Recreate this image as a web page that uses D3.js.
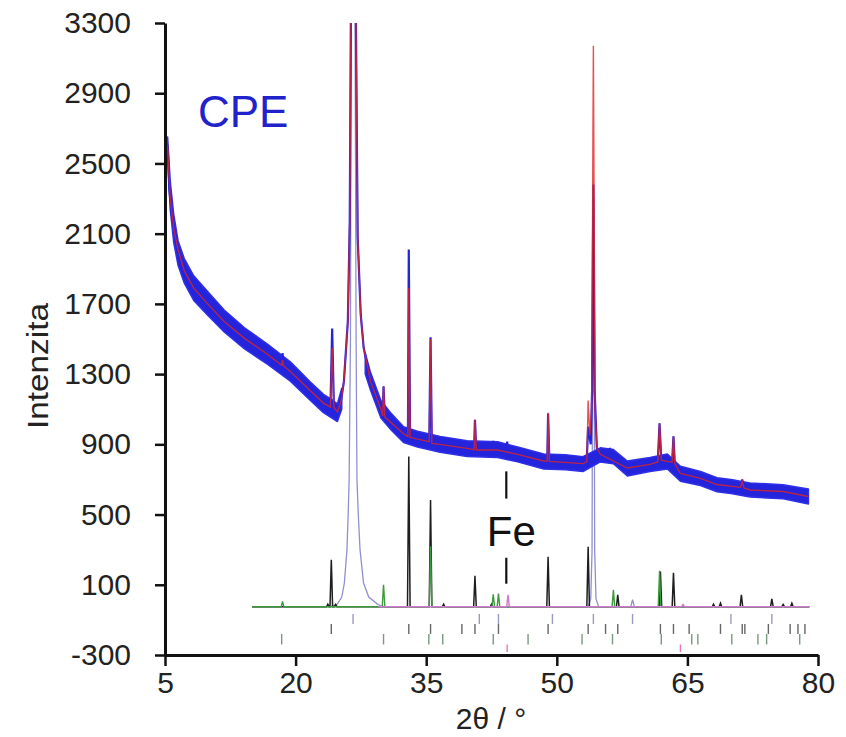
<!DOCTYPE html>
<html>
<head>
<meta charset="utf-8">
<script src="https://cdn.jsdelivr.net/npm/d3@7/dist/d3.min.js"></script>
<style>
  body { margin: 0; background: #fff; }
  text { font-family: "Liberation Sans", Arial, sans-serif; }
</style>
</head>
<body>
<div id="chart"></div>
<script>
// tick labels
const xTicks = [5, 20, 35, 50, 65, 80];
const yTicks = [-300, 100, 500, 900, 1300, 1700, 2100, 2500, 2900, 3300];

// measured pattern (centre of the noisy trace), [2θ, intensity]
const observed = [
  [5.3, 2600], [5.5, 2350], [5.8, 2200], [6.2, 2090], [6.7, 1980], [7.2, 1890], [8.3, 1790],
  [9.9, 1700], [11.8, 1600], [13.6, 1525], [13.7, 1580], [13.8, 1520], [14.1, 1505],
  [16.3, 1425], [16.4, 1480], [16.5, 1420], [16.8, 1410], [18.4, 1350], [18.5, 1420],
  [18.6, 1345], [19.4, 1315], [21.7, 1205], [23.2, 1135], [24.0, 1110], [24.2, 1560],
  [24.4, 1110], [24.8, 1080], [25.2, 1140], [25.55, 1260], [26.0, 1600], [26.22, 2170],
  [26.4, 3800], [26.85, 3800], [27.13, 2080], [27.48, 1640], [27.82, 1450], [28.6, 1260],
  [29.8, 1100], [30.0, 1060], [30.1, 1230], [30.25, 1050], [32.4, 957], [32.9, 940],
  [33.0, 2010], [33.15, 935], [34.0, 929], [35.35, 915], [35.5, 1510], [35.65, 905],
  [36.6, 900], [39.7, 877], [40.5, 870], [40.6, 1040], [40.75, 868], [42.6, 865],
  [42.7, 920], [42.85, 860], [44.2, 850], [44.3, 915], [44.4, 848], [45.5, 843],
  [48.5, 805], [48.9, 805], [49.0, 1075], [49.15, 803], [53.0, 790], [53.45, 820],
  [53.6, 1000], [53.9, 900], [54.05, 1200], [54.2, 2380], [54.35, 1200], [54.6, 880],
  [55.0, 843], [56.0, 850], [56.1, 880], [56.2, 845], [58.1, 765], [60.7, 786],
  [61.6, 800], [61.8, 1020], [62.0, 810], [62.7, 803], [63.25, 800], [63.4, 946],
  [63.55, 790], [64.2, 734], [66.5, 706], [68.4, 671], [71.1, 655], [71.3, 700],
  [71.5, 652], [72.2, 640], [76.0, 631], [78.9, 603]
];

// spread of the noise around the measured trace, [2θ, low, high]
const observedBand = [
  [5.3, 2540, 2650], [5.6, 2240, 2400], [6.0, 2050, 2210], [6.5, 1920, 2060],
  [7.2, 1820, 1960], [8.3, 1720, 1860], [9.9, 1635, 1770], [11.8, 1540, 1665],
  [14.1, 1445, 1565], [16.8, 1355, 1470], [19.4, 1260, 1370], [21.7, 1150, 1255],
  [23.2, 1080, 1185], [24.0, 1055, 1160], [24.8, 1030, 1130], [25.3, 1100, 1220],
  [25.6, null, null],
  [28.0, 1300, 1420], [28.6, 1210, 1310], [29.8, 1050, 1150], [31.0, 980, 1075],
  [32.4, 910, 1000], [34.0, 885, 975], [36.6, 855, 945], [39.7, 830, 920],
  [43.2, 825, 915], [45.5, 800, 885], [48.5, 760, 845], [51.0, 755, 840],
  [53.0, 745, 830], [55.0, 800, 880], [56.5, 790, 870], [58.1, 720, 805],
  [60.7, 745, 825], [62.7, 760, 845], [64.2, 690, 775], [66.5, 665, 745],
  [68.4, 630, 710], [70.0, 620, 700], [72.2, 600, 680], [76.0, 590, 670],
  [78.9, 560, 645]
];

// refined (calculated) pattern, [2θ, intensity]
const calculated = [
  [5.3, 2600], [5.6, 2300], [6.0, 2130], [6.5, 2010], [7.2, 1890], [8.3, 1790],
  [9.9, 1700], [11.8, 1600], [14.1, 1505], [16.8, 1412], [18.4, 1350], [18.5, 1380],
  [18.6, 1348], [19.4, 1315], [21.7, 1205], [23.2, 1135], [24.0, 1112], [24.2, 1450],
  [24.4, 1110], [24.8, 1085], [25.2, 1140], [25.55, 1260], [26.0, 1600], [26.22, 2170],
  [26.4, 3800], [26.85, 3800], [27.13, 2080], [27.48, 1640], [27.82, 1450], [28.6, 1260],
  [29.8, 1100], [30.0, 1062], [30.1, 1230], [30.25, 1055], [32.4, 960], [32.9, 945],
  [33.0, 1790], [33.15, 940], [34.0, 930], [35.35, 915], [35.5, 1500], [35.65, 905],
  [36.6, 900], [39.7, 877], [40.5, 870], [40.6, 1040], [40.75, 868], [43.2, 868],
  [45.5, 843], [48.5, 805], [48.9, 805], [49.0, 1080], [49.15, 803], [53.0, 790],
  [53.45, 800], [53.6, 1150], [53.8, 950], [54.0, 1100], [54.2, 3170], [54.4, 1100],
  [54.6, 880], [55.0, 843], [58.1, 765], [60.7, 786], [61.6, 800], [61.8, 1020],
  [62.0, 810], [62.7, 803], [63.25, 800], [63.4, 946], [63.55, 790], [64.2, 734],
  [66.5, 706], [68.4, 671], [71.1, 655], [71.3, 690], [71.5, 652], [72.2, 640],
  [76.0, 631], [78.9, 603]
];

// phase contributions drawn along the bottom
const phaseBase = -25;
const phaseStart = 15;
const phaseEnd = 79;
const quartzProfile = [
  [15, -25], [24.0, -25], [24.8, -10], [25.3, 30], [25.6, 110], [25.9, 300], [26.05, 520],
  [26.15, 700], [26.3, 1500], [26.42, 4000], [26.78, 4000], [26.95, 1500], [27.05, 700],
  [27.2, 500], [27.4, 300], [27.8, 110], [28.4, 30], [29.4, -10], [30.0, -25],
  [53.6, -25], [53.9, 20], [54.05, 300], [54.15, 2300], [54.25, 2300], [54.35, 300],
  [54.5, 20], [54.8, -25], [58.5, -25], [58.7, 15], [58.9, -25], [79, -25]
];
// [2θ, peak top]
const blackPeaks = [
  [23.7, -10], [24.1, 243], [24.6, -12], [33.0, 830], [35.5, 583], [37.0, -10],
  [40.6, 151], [42.5, -10], [49.0, 260], [53.6, 317], [57.0, 43], [61.9, 175],
  [63.4, 169], [68.0, -10], [68.8, -5], [71.2, 43], [74.7, 20], [76.0, -12], [77.0, -5]
];
const greenPeaks = [
  [18.5, 5], [30.1, 100], [35.5, 320], [42.7, 45], [43.3, 50], [56.5, 71], [61.8, 180]
];
const ironPeaks = [[44.4, 43], [64.5, -12]];

// reflection markers, one row per phase
const markRowA = [26.6, 41.1, 43.3, 49.5, 54.2, 58.7, 70.0, 74.7];
const markRowB = [24.1, 33.0, 35.5, 39.1, 40.6, 43.3, 49.0, 53.6, 55.6, 57.0, 61.9, 63.4,
  65.2, 68.8, 71.3, 71.6, 74.3, 76.8, 77.7, 78.5];
const markRowC = [18.4, 30.1, 35.3, 36.9, 42.7, 46.7, 52.9, 56.4, 62.0, 65.5, 66.2, 70.1,
  73.1, 74.1, 77.9];
const markRowD = [44.3, 64.2];

const width = 846, height = 737;
const svg = d3.select('#chart').append('svg')
  .attr('width', width).attr('height', height)
  .attr('viewBox', `0 0 ${width} ${height}`);

const x = d3.scaleLinear().domain([5, 80]).range([165, 818]);
const y = d3.scaleLinear().domain([-300, 3300]).range([655, 23]);

svg.append('clipPath').attr('id', 'plot')
  .append('rect').attr('x', 165).attr('y', 23).attr('width', 655).attr('height', 632);

const g = svg.append('g').attr('clip-path', 'url(#plot)');

const line = d3.line().x(d => x(d[0])).y(d => y(d[1]));

// turn a list of peaks into a stick pattern on the base line
function sticks(peaks, from, to) {
  const pts = [[from, phaseBase]];
  peaks.forEach(([p, top]) => {
    pts.push([p - 0.15, phaseBase], [p, top], [p + 0.15, phaseBase]);
  });
  pts.push([to, phaseBase]);
  return pts;
}

g.append('path').datum(quartzProfile)
  .attr('fill', 'none').attr('stroke', '#9090d0').attr('stroke-width', 1.3)
  .attr('d', line);
g.append('path').datum(sticks(blackPeaks, phaseStart, phaseEnd))
  .attr('fill', 'none').attr('stroke', '#1e1e1e').attr('stroke-width', 1.5)
  .attr('d', line);
g.append('path').datum(sticks(greenPeaks, phaseStart, phaseEnd))
  .attr('fill', 'none').attr('stroke', '#3c9a3c').attr('stroke-width', 1.4)
  .attr('d', line);
g.append('path').datum(sticks(ironPeaks, 29.5, phaseEnd))
  .attr('fill', 'none').attr('stroke', '#d27ad2').attr('stroke-width', 1.5)
  .attr('d', line);

// reflection markers
const markRows = [
  { pos: markRowA, lo: -123, hi: -66, color: '#9a9ac0' },
  { pos: markRowB, lo: -180, hi: -123, color: '#666' },
  { pos: markRowC, lo: -240, hi: -180, color: '#7a987f' },
  { pos: markRowD, lo: -283, hi: -240, color: '#e07ab8' }
];
markRows.forEach(row => {
  g.append('g').selectAll('line').data(row.pos).join('line')
    .attr('x1', d => x(d)).attr('x2', d => x(d))
    .attr('y1', y(row.hi)).attr('y2', y(row.lo))
    .attr('stroke', row.color).attr('stroke-width', 1.4);
});

// measured trace: noise band + centre line, then the fit
const band = d3.area()
  .defined(d => d[1] != null)
  .x(d => x(d[0])).y0(d => y(d[1])).y1(d => y(d[2]));
g.append('path').datum(observedBand)
  .attr('fill', '#2424dc').attr('stroke', '#3030e8').attr('stroke-width', 1.5)
  .attr('stroke-linejoin', 'round')
  .attr('d', band);
g.append('path').datum(observed)
  .attr('fill', 'none').attr('stroke', '#2424d8').attr('stroke-width', 2.2)
  .attr('d', line);
g.append('path').datum(calculated)
  .attr('fill', 'none').attr('stroke', '#e02424').attr('stroke-width', 1.4)
  .attr('stroke-opacity', 0.8)
  .attr('d', line);

// axes
const fmt = d => String(d);
const yAxis = svg.append('g').attr('transform', `translate(${x(5)},0)`)
  .call(d3.axisLeft(y).tickValues(yTicks).tickFormat(fmt)
    .tickSize(10).tickSizeOuter(0).tickPadding(24));
const xAxis = svg.append('g').attr('transform', `translate(0,${y(-300)})`)
  .call(d3.axisBottom(x).tickValues(xTicks).tickFormat(fmt)
    .tickSize(11).tickSizeOuter(0).tickPadding(6));
[yAxis, xAxis].forEach(a => {
  a.select('.domain').attr('stroke', '#111').attr('stroke-width', 3);
  a.selectAll('.tick line').attr('stroke', '#111').attr('stroke-width', 2.5);
  a.selectAll('.tick text').attr('font-size', 30).attr('fill', '#222')
    .style('font-family', '"Liberation Sans", Arial, sans-serif');
});

// titles
svg.append('text')
  .attr('transform', `translate(48,${(y(-300) + y(3300)) / 2 + 27}) rotate(-90)`)
  .attr('text-anchor', 'middle').attr('font-size', 30).attr('fill', '#222')
  .attr('textLength', 126).attr('lengthAdjust', 'spacingAndGlyphs')
  .text('Intenzita');
svg.append('text')
  .attr('x', 491).attr('y', 729)
  .attr('text-anchor', 'middle').attr('font-size', 30).attr('fill', '#222')
  .text('2θ / °');

// annotations
svg.append('text')
  .attr('x', 198).attr('y', 127)
  .attr('font-size', 44).attr('fill', '#2222cc')
  .text('CPE');
const feX = x(44.2);
svg.append('line').attr('x1', feX).attr('x2', feX).attr('y1', y(746)).attr('y2', y(591))
  .attr('stroke', '#111').attr('stroke-width', 2.2);
svg.append('line').attr('x1', feX).attr('x2', feX).attr('y1', y(254)).attr('y2', y(106))
  .attr('stroke', '#111').attr('stroke-width', 2.2);
svg.append('text')
  .attr('x', feX + 5).attr('y', 546)
  .attr('text-anchor', 'middle').attr('font-size', 42).attr('fill', '#111')
  .text('Fe');
</script>
</body>
</html>
